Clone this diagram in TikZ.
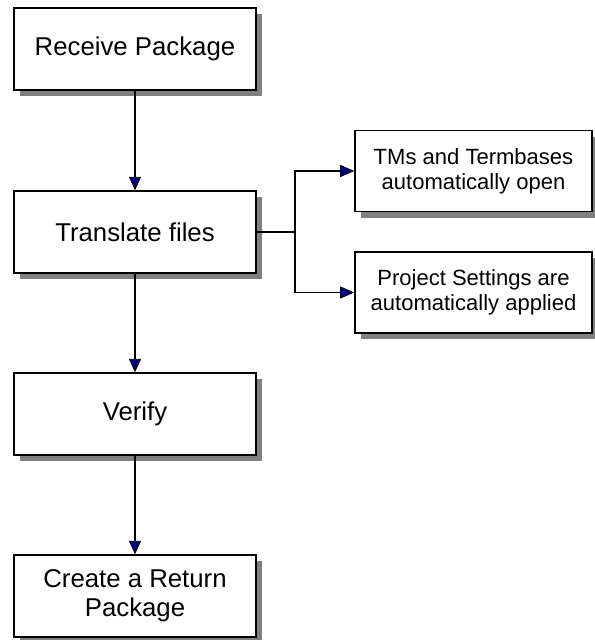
\documentclass[tikz,border=0pt]{standalone}
\usepackage{fontspec}
\setmainfont{Liberation Sans}
\usepackage{xcolor}
\usetikzlibrary{arrows.meta, positioning, shadows}

\definecolor{arrowblue}{RGB}{0,0,128}
\definecolor{shadowgray}{RGB}{128,128,128}

\begin{document}
\begin{tikzpicture}[
    x=0.03cm, y=-0.03cm,
    box/.style={rectangle, draw, line width=1.3pt, fill=white, align=center,
        drop shadow={shadow xshift=0.19cm, shadow yshift=-0.19cm, fill=shadowgray, opacity=1}},
    stepbox/.style={box, minimum width=7.26cm, minimum height=2.46cm, font=\fontsize{22}{24.5}\selectfont},
    sidebox/.style={box, minimum width=7.11cm, minimum height=2.43cm, font=\fontsize{18.8}{21.5}\selectfont},
    myarrow/.style={-{Triangle[length=0.4cm, width=0.36cm, line width=0.7pt, fill=arrowblue]}, line width=2.4pt},
    forkarrow/.style={-{Triangle[length=0.42cm, width=0.36cm, line width=0.7pt, fill=arrowblue]}, line width=0.9pt}
]
\useasboundingbox (0,0) rectangle (595,640);

% main column
\node[stepbox] (recv)   at (135, 49)  {Receive Package};
\node[stepbox] (trans)  at (135, 232) {Translate files};
\node[stepbox] (verify) at (135, 414) {Verify};
\node[stepbox] (create) at (135, 596) {Create a Return\\Package};

% side boxes
\node[sidebox] (tms)  at (473.5, 171)   {TMs and Termbases\\automatically open};
\node[sidebox] (proj) at (473.5, 292.5) {Project Settings are\\automatically applied};

\coordinate (fork) at (295, 232);

\draw[myarrow] (recv) -- (trans);
\draw[myarrow] (trans) -- (verify);
\draw[myarrow] (verify) -- (create);

\draw[line width=0.9pt] (trans.east) -- (fork);
\draw[forkarrow] (fork) |- (tms.west);
\draw[forkarrow] (fork) |- (proj.west);

\end{tikzpicture}
\end{document}
